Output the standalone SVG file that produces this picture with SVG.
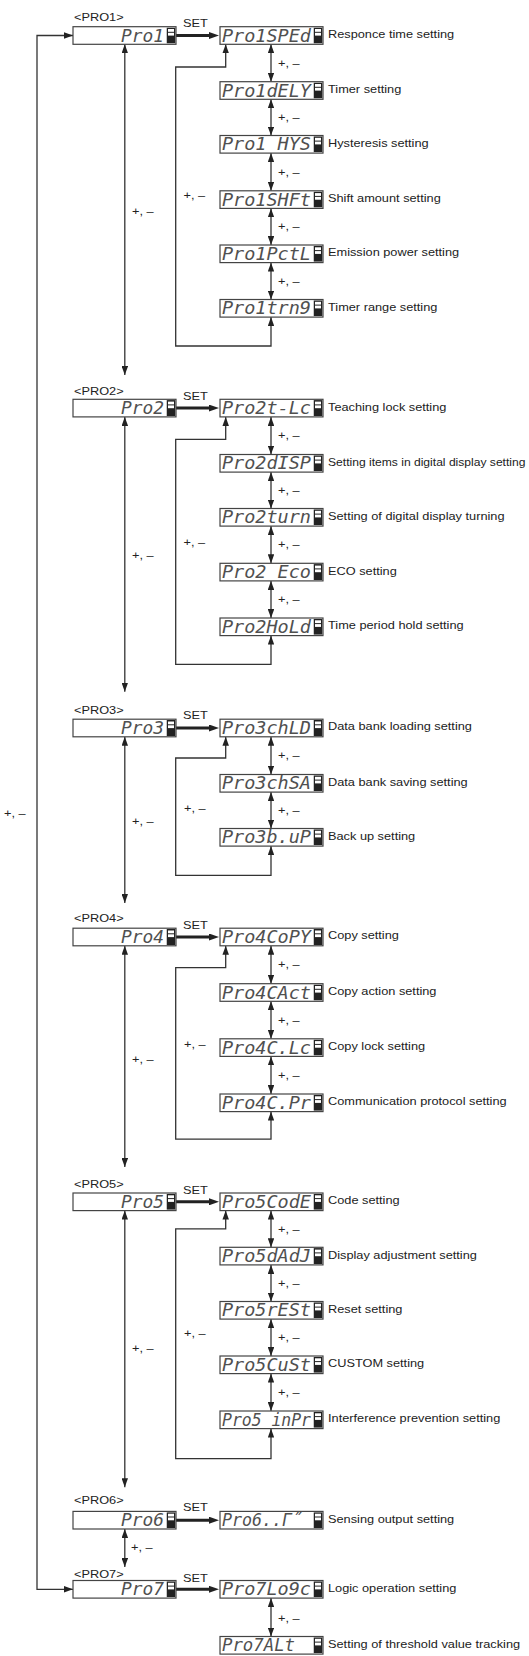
<svg xmlns="http://www.w3.org/2000/svg" xmlns:xlink="http://www.w3.org/1999/xlink" width="529" height="1656" viewBox="0 0 529 1656">
<style>
.box{fill:#fff;stroke:#444;stroke-width:1.2}
.seg{font-family:"DejaVu Sans Mono",monospace;font-style:italic;font-size:18px;fill:#505050}
.lbl{font-family:"Liberation Sans",Arial,sans-serif;font-size:11px;fill:#222}
.ln{fill:none;stroke:#333;stroke-width:1.3}
.dbl{marker-start:url(#ah);marker-end:url(#ah)}
.set{fill:none;stroke:#222;stroke-width:3;marker-end:url(#ahs)}
</style>
<defs>
<marker id="ah" viewBox="0 0 10 10" refX="10" refY="5" markerWidth="9" markerHeight="6.5" markerUnits="userSpaceOnUse" orient="auto-start-reverse" preserveAspectRatio="none"><path d="M0,0 L10,5 L0,10 z" fill="#222"/></marker>
<marker id="ahs" viewBox="0 0 10 10" refX="1" refY="5" markerWidth="10" markerHeight="7" markerUnits="userSpaceOnUse" orient="auto" preserveAspectRatio="none"><path d="M0,0 L10,5 L0,10 z" fill="#222"/></marker>
<symbol id="ind" viewBox="0 0 9 16" preserveAspectRatio="none"><rect x="0" y="0" width="9" height="16" fill="#222"/><rect x="1.5" y="1.5" width="6" height="2.8" fill="#fff"/><rect x="1.5" y="5.3" width="6" height="2.8" fill="#fff"/></symbol>
</defs>
<rect width="529" height="1656" fill="#fff"/>

<g id="connectors">
<path class="ln dbl" d="M73,35.5 H37 V1589.3 H73"/>
<text class="lbl" transform="matrix(1.16 0 0 1 4 816.5)">+, –</text>
<!-- S1 -->
<path class="set" d="M176,35.5 H210"/>
<path class="ln dbl" d="M124.8,44.3 V375"/>
<path class="ln dbl" d="M225.7,44.3 V67 H175.7 V346 H271 V317.1"/>
<path class="ln dbl" d="M271,44.3 V81.7"/>
<path class="ln dbl" d="M271,99.3 V135.5"/>
<path class="ln dbl" d="M271,153.1 V190.8"/>
<path class="ln dbl" d="M271,208.4 V245"/>
<path class="ln dbl" d="M271,262.6 V299.5"/>
<text class="lbl" transform="matrix(1.16 0 0 1 278 66.5)">+, –</text>
<text class="lbl" transform="matrix(1.16 0 0 1 278 120.9)">+, –</text>
<text class="lbl" transform="matrix(1.16 0 0 1 278 175.5)">+, –</text>
<text class="lbl" transform="matrix(1.16 0 0 1 278 230.2)">+, –</text>
<text class="lbl" transform="matrix(1.16 0 0 1 278 284.5)">+, –</text>
<text class="lbl" transform="matrix(1.16 0 0 1 132 214.5)">+, –</text>
<text class="lbl" transform="matrix(1.16 0 0 1 183.5 198.5)">+, –</text>
<!-- S2 -->
<path class="set" d="M176,408.1 H210"/>
<path class="ln dbl" d="M124.8,416.9 V691.7"/>
<path class="ln dbl" d="M225.7,416.9 V439.3 H175.7 V664.3 H271 V635.6"/>
<path class="ln dbl" d="M271,416.9 V454.5"/>
<path class="ln dbl" d="M271,472.1 V508.5"/>
<path class="ln dbl" d="M271,526.1 V563.3"/>
<path class="ln dbl" d="M271,580.9 V618"/>
<text class="lbl" transform="matrix(1.16 0 0 1 278 439.2)">+, –</text>
<text class="lbl" transform="matrix(1.16 0 0 1 278 493.8)">+, –</text>
<text class="lbl" transform="matrix(1.16 0 0 1 278 548.2)">+, –</text>
<text class="lbl" transform="matrix(1.16 0 0 1 278 603)">+, –</text>
<text class="lbl" transform="matrix(1.16 0 0 1 132 559)">+, –</text>
<text class="lbl" transform="matrix(1.16 0 0 1 183.5 546)">+, –</text>
<!-- S3 -->
<path class="set" d="M176,728 H210"/>
<path class="ln dbl" d="M124.8,736.8 V902.9"/>
<path class="ln dbl" d="M225.7,736.8 V758 H175.7 V875.4 H271 V846.1"/>
<path class="ln dbl" d="M271,736.8 V774.5"/>
<path class="ln dbl" d="M271,792.1 V828.5"/>
<text class="lbl" transform="matrix(1.16 0 0 1 278 759.2)">+, –</text>
<text class="lbl" transform="matrix(1.16 0 0 1 278 813.8)">+, –</text>
<text class="lbl" transform="matrix(1.16 0 0 1 132 825)">+, –</text>
<text class="lbl" transform="matrix(1.16 0 0 1 184 811.5)">+, –</text>
<!-- S4 -->
<path class="set" d="M176,937 H210"/>
<path class="ln dbl" d="M124.8,945.8 V1167"/>
<path class="ln dbl" d="M225.7,945.8 V967.7 H175.7 V1139.1 H271 V1111.6"/>
<path class="ln dbl" d="M271,945.8 V983.7"/>
<path class="ln dbl" d="M271,1001.3 V1038.8"/>
<path class="ln dbl" d="M271,1056.4 V1094"/>
<text class="lbl" transform="matrix(1.16 0 0 1 278 968.3)">+, –</text>
<text class="lbl" transform="matrix(1.16 0 0 1 278 1023.5)">+, –</text>
<text class="lbl" transform="matrix(1.16 0 0 1 278 1078.7)">+, –</text>
<text class="lbl" transform="matrix(1.16 0 0 1 132 1063)">+, –</text>
<text class="lbl" transform="matrix(1.16 0 0 1 184 1047.8)">+, –</text>
<!-- S5 -->
<path class="set" d="M176,1201.8 H210"/>
<path class="ln dbl" d="M124.8,1210.6 V1487.2"/>
<path class="ln dbl" d="M225.7,1210.6 V1228.9 H175.7 V1458.6 H271 V1428.6"/>
<path class="ln dbl" d="M271,1210.6 V1247.3"/>
<path class="ln dbl" d="M271,1264.9 V1301.5"/>
<path class="ln dbl" d="M271,1319.1 V1356"/>
<path class="ln dbl" d="M271,1373.6 V1411"/>
<text class="lbl" transform="matrix(1.16 0 0 1 278 1232.5)">+, –</text>
<text class="lbl" transform="matrix(1.16 0 0 1 278 1286.7)">+, –</text>
<text class="lbl" transform="matrix(1.16 0 0 1 278 1341.1)">+, –</text>
<text class="lbl" transform="matrix(1.16 0 0 1 278 1395.8)">+, –</text>
<text class="lbl" transform="matrix(1.16 0 0 1 132 1351.7)">+, –</text>
<text class="lbl" transform="matrix(1.16 0 0 1 184 1337.2)">+, –</text>
<!-- S6 / S7 -->
<path class="set" d="M176,1520.2 H210"/>
<path class="ln dbl" d="M124.8,1529 V1567"/>
<text class="lbl" transform="matrix(1.16 0 0 1 131 1551)">+, –</text>
<path class="set" d="M176,1589.3 H210"/>
<path class="ln dbl" d="M271,1598.1 V1636.5"/>
<text class="lbl" transform="matrix(1.16 0 0 1 278 1621.8)">+, –</text>
<!-- SET labels -->
<text class="lbl" transform="matrix(1.16 0 0 1 183 26.5)">SET</text>
<text class="lbl" transform="matrix(1.16 0 0 1 183 399.5)">SET</text>
<text class="lbl" transform="matrix(1.16 0 0 1 183 718.6)">SET</text>
<text class="lbl" transform="matrix(1.16 0 0 1 183 929)">SET</text>
<text class="lbl" transform="matrix(1.16 0 0 1 183 1194)">SET</text>
<text class="lbl" transform="matrix(1.16 0 0 1 183 1511.4)">SET</text>
<text class="lbl" transform="matrix(1.16 0 0 1 183 1582)">SET</text>
</g>

<!-- Section 1 -->
<g id="pro1"><rect class="box" x="73" y="26.7" width="103" height="17.6"/><text class="seg" x="121" y="41.5" textLength="43" lengthAdjust="spacingAndGlyphs">Pro1</text><use href="#ind" x="166.5" y="27.5" width="9" height="16"/><text class="lbl" transform="matrix(1.16 0 0 1 74 20.7)">&lt;PRO1&gt;</text></g>
<g id="pro1-sped"><rect class="box" x="220" y="26.7" width="103" height="17.6"/><text class="seg" x="222" y="41.5" textLength="89" lengthAdjust="spacingAndGlyphs">Pro1SPEd</text><use href="#ind" x="313.5" y="27.5" width="9" height="16"/><text class="lbl" transform="matrix(1.16 0 0 1 328 37.9)">Responce time setting</text></g>
<g id="pro1-dely"><rect class="box" x="220" y="81.7" width="103" height="17.6"/><text class="seg" x="222" y="96.5" textLength="89" lengthAdjust="spacingAndGlyphs">Pro1dELY</text><use href="#ind" x="313.5" y="82.5" width="9" height="16"/><text class="lbl" transform="matrix(1.16 0 0 1 328 92.9)">Timer setting</text></g>
<g id="pro1-hys"><rect class="box" x="220" y="135.5" width="103" height="17.6"/><text class="seg" x="222" y="150.3" textLength="89" lengthAdjust="spacingAndGlyphs">Pro1 HYS</text><use href="#ind" x="313.5" y="136.3" width="9" height="16"/><text class="lbl" transform="matrix(1.16 0 0 1 328 146.7)">Hysteresis setting</text></g>
<g id="pro1-shft"><rect class="box" x="220" y="190.8" width="103" height="17.6"/><text class="seg" x="222" y="205.6" textLength="89" lengthAdjust="spacingAndGlyphs">Pro1SHFt</text><use href="#ind" x="313.5" y="191.6" width="9" height="16"/><text class="lbl" transform="matrix(1.16 0 0 1 328 202)">Shift amount setting</text></g>
<g id="pro1-pctl"><rect class="box" x="220" y="245" width="103" height="17.6"/><text class="seg" x="222" y="259.8" textLength="89" lengthAdjust="spacingAndGlyphs">Pro1PctL</text><use href="#ind" x="313.5" y="245.8" width="9" height="16"/><text class="lbl" transform="matrix(1.16 0 0 1 328 256.2)">Emission power setting</text></g>
<g id="pro1-trng"><rect class="box" x="220" y="299.5" width="103" height="17.6"/><text class="seg" x="222" y="314.3" textLength="89" lengthAdjust="spacingAndGlyphs">Pro1trn9</text><use href="#ind" x="313.5" y="300.3" width="9" height="16"/><text class="lbl" transform="matrix(1.16 0 0 1 328 310.7)">Timer range setting</text></g>

<!-- Section 2 -->
<g id="pro2"><rect class="box" x="73" y="399.3" width="103" height="17.6"/><text class="seg" x="121" y="414.1" textLength="43" lengthAdjust="spacingAndGlyphs">Pro2</text><use href="#ind" x="166.5" y="400.1" width="9" height="16"/><text class="lbl" transform="matrix(1.16 0 0 1 74 395)">&lt;PRO2&gt;</text></g>
<g id="pro2-tlc"><rect class="box" x="220" y="399.3" width="103" height="17.6"/><text class="seg" x="222" y="414.1" textLength="89" lengthAdjust="spacingAndGlyphs">Pro2t-Lc</text><use href="#ind" x="313.5" y="400.1" width="9" height="16"/><text class="lbl" transform="matrix(1.16 0 0 1 328 410.5)">Teaching lock setting</text></g>
<g id="pro2-disp"><rect class="box" x="220" y="454.5" width="103" height="17.6"/><text class="seg" x="222" y="469.3" textLength="89" lengthAdjust="spacingAndGlyphs">Pro2dISP</text><use href="#ind" x="313.5" y="455.3" width="9" height="16"/><text class="lbl" transform="matrix(1.1 0 0 1 328 465.7)">Setting items in digital display setting</text></g>
<g id="pro2-turn"><rect class="box" x="220" y="508.5" width="103" height="17.6"/><text class="seg" x="222" y="523.3" textLength="89" lengthAdjust="spacingAndGlyphs">Pro2turn</text><use href="#ind" x="313.5" y="509.3" width="9" height="16"/><text class="lbl" transform="matrix(1.16 0 0 1 328 519.7)">Setting of digital display turning</text></g>
<g id="pro2-eco"><rect class="box" x="220" y="563.3" width="103" height="17.6"/><text class="seg" x="222" y="578.1" textLength="89" lengthAdjust="spacingAndGlyphs">Pro2 Eco</text><use href="#ind" x="313.5" y="564.1" width="9" height="16"/><text class="lbl" transform="matrix(1.16 0 0 1 328 574.5)">ECO setting</text></g>
<g id="pro2-hold"><rect class="box" x="220" y="618" width="103" height="17.6"/><text class="seg" x="222" y="632.8" textLength="89" lengthAdjust="spacingAndGlyphs">Pro2HoLd</text><use href="#ind" x="313.5" y="618.8" width="9" height="16"/><text class="lbl" transform="matrix(1.16 0 0 1 328 629.2)">Time period hold setting</text></g>

<!-- Section 3 -->
<g id="pro3"><rect class="box" x="73" y="719.2" width="103" height="17.6"/><text class="seg" x="121" y="734" textLength="43" lengthAdjust="spacingAndGlyphs">Pro3</text><use href="#ind" x="166.5" y="720" width="9" height="16"/><text class="lbl" transform="matrix(1.16 0 0 1 74 713.5)">&lt;PRO3&gt;</text></g>
<g id="pro3-chld"><rect class="box" x="220" y="719.2" width="103" height="17.6"/><text class="seg" x="222" y="734" textLength="89" lengthAdjust="spacingAndGlyphs">Pro3chLD</text><use href="#ind" x="313.5" y="720" width="9" height="16"/><text class="lbl" transform="matrix(1.16 0 0 1 328 730.4)">Data bank loading setting</text></g>
<g id="pro3-chsa"><rect class="box" x="220" y="774.5" width="103" height="17.6"/><text class="seg" x="222" y="789.3" textLength="89" lengthAdjust="spacingAndGlyphs">Pro3chSA</text><use href="#ind" x="313.5" y="775.3" width="9" height="16"/><text class="lbl" transform="matrix(1.16 0 0 1 328 785.7)">Data bank saving setting</text></g>
<g id="pro3-bup"><rect class="box" x="220" y="828.5" width="103" height="17.6"/><text class="seg" x="222" y="843.3" textLength="89" lengthAdjust="spacingAndGlyphs">Pro3b.uP</text><use href="#ind" x="313.5" y="829.3" width="9" height="16"/><text class="lbl" transform="matrix(1.16 0 0 1 328 839.7)">Back up setting</text></g>

<!-- Section 4 -->
<g id="pro4"><rect class="box" x="73" y="928.2" width="103" height="17.6"/><text class="seg" x="121" y="943" textLength="43" lengthAdjust="spacingAndGlyphs">Pro4</text><use href="#ind" x="166.5" y="929" width="9" height="16"/><text class="lbl" transform="matrix(1.16 0 0 1 74 922)">&lt;PRO4&gt;</text></g>
<g id="pro4-copy"><rect class="box" x="220" y="928.2" width="103" height="17.6"/><text class="seg" x="222" y="943" textLength="89" lengthAdjust="spacingAndGlyphs">Pro4CoPY</text><use href="#ind" x="313.5" y="929" width="9" height="16"/><text class="lbl" transform="matrix(1.16 0 0 1 328 939.4)">Copy setting</text></g>
<g id="pro4-cact"><rect class="box" x="220" y="983.7" width="103" height="17.6"/><text class="seg" x="222" y="998.5" textLength="89" lengthAdjust="spacingAndGlyphs">Pro4CAct</text><use href="#ind" x="313.5" y="984.5" width="9" height="16"/><text class="lbl" transform="matrix(1.16 0 0 1 328 994.9)">Copy action setting</text></g>
<g id="pro4-clc"><rect class="box" x="220" y="1038.8" width="103" height="17.6"/><text class="seg" x="222" y="1053.6" textLength="89" lengthAdjust="spacingAndGlyphs">Pro4C.Lc</text><use href="#ind" x="313.5" y="1039.6" width="9" height="16"/><text class="lbl" transform="matrix(1.16 0 0 1 328 1050)">Copy lock setting</text></g>
<g id="pro4-cpr"><rect class="box" x="220" y="1094" width="103" height="17.6"/><text class="seg" x="222" y="1108.8" textLength="89" lengthAdjust="spacingAndGlyphs">Pro4C.Pr</text><use href="#ind" x="313.5" y="1094.8" width="9" height="16"/><text class="lbl" transform="matrix(1.16 0 0 1 328 1105.2)">Communication protocol setting</text></g>

<!-- Section 5 -->
<g id="pro5"><rect class="box" x="73" y="1193" width="103" height="17.6"/><text class="seg" x="121" y="1207.8" textLength="43" lengthAdjust="spacingAndGlyphs">Pro5</text><use href="#ind" x="166.5" y="1193.8" width="9" height="16"/><text class="lbl" transform="matrix(1.16 0 0 1 74 1187.5)">&lt;PRO5&gt;</text></g>
<g id="pro5-code"><rect class="box" x="220" y="1193" width="103" height="17.6"/><text class="seg" x="222" y="1207.8" textLength="89" lengthAdjust="spacingAndGlyphs">Pro5CodE</text><use href="#ind" x="313.5" y="1193.8" width="9" height="16"/><text class="lbl" transform="matrix(1.16 0 0 1 328 1204.2)">Code setting</text></g>
<g id="pro5-dadj"><rect class="box" x="220" y="1247.3" width="103" height="17.6"/><text class="seg" x="222" y="1262.1" textLength="89" lengthAdjust="spacingAndGlyphs">Pro5dAdJ</text><use href="#ind" x="313.5" y="1248.1" width="9" height="16"/><text class="lbl" transform="matrix(1.16 0 0 1 328 1258.5)">Display adjustment setting</text></g>
<g id="pro5-rest"><rect class="box" x="220" y="1301.5" width="103" height="17.6"/><text class="seg" x="222" y="1316.3" textLength="89" lengthAdjust="spacingAndGlyphs">Pro5rESt</text><use href="#ind" x="313.5" y="1302.3" width="9" height="16"/><text class="lbl" transform="matrix(1.16 0 0 1 328 1312.7)">Reset setting</text></g>
<g id="pro5-cust"><rect class="box" x="220" y="1356" width="103" height="17.6"/><text class="seg" x="222" y="1370.8" textLength="89" lengthAdjust="spacingAndGlyphs">Pro5CuSt</text><use href="#ind" x="313.5" y="1356.8" width="9" height="16"/><text class="lbl" transform="matrix(1.16 0 0 1 328 1367.2)">CUSTOM setting</text></g>
<g id="pro5-inpr"><rect class="box" x="220" y="1411" width="103" height="17.6"/><text class="seg" x="222" y="1425.8" textLength="89" lengthAdjust="spacingAndGlyphs">Pro5 inPr</text><use href="#ind" x="313.5" y="1411.8" width="9" height="16"/><text class="lbl" transform="matrix(1.16 0 0 1 328 1422.2)">Interference prevention setting</text></g>

<!-- Section 6 -->
<g id="pro6"><rect class="box" x="73" y="1511.4" width="103" height="17.6"/><text class="seg" x="121" y="1526.2" textLength="43" lengthAdjust="spacingAndGlyphs">Pro6</text><use href="#ind" x="166.5" y="1512.2" width="9" height="16"/><text class="lbl" transform="matrix(1.16 0 0 1 74 1504.3)">&lt;PRO6&gt;</text></g>
<g id="pro6-out"><rect class="box" x="220" y="1511.4" width="103" height="17.6"/><text class="seg" x="222" y="1526.2" textLength="80" lengthAdjust="spacingAndGlyphs">Pro6..Γ˝</text><use href="#ind" x="313.5" y="1512.2" width="9" height="16"/><text class="lbl" transform="matrix(1.16 0 0 1 328 1522.6)">Sensing output setting</text></g>

<!-- Section 7 -->
<g id="pro7"><rect class="box" x="73" y="1580.5" width="103" height="17.6"/><text class="seg" x="121" y="1595.3" textLength="43" lengthAdjust="spacingAndGlyphs">Pro7</text><use href="#ind" x="166.5" y="1581.3" width="9" height="16"/><text class="lbl" transform="matrix(1.16 0 0 1 74 1577.5)">&lt;PRO7&gt;</text></g>
<g id="pro7-logc"><rect class="box" x="220" y="1580.5" width="103" height="17.6"/><text class="seg" x="222" y="1595.3" textLength="89" lengthAdjust="spacingAndGlyphs">Pro7Lo9c</text><use href="#ind" x="313.5" y="1581.3" width="9" height="16"/><text class="lbl" transform="matrix(1.16 0 0 1 328 1591.7)">Logic operation setting</text></g>
<g id="pro7-alt"><rect class="box" x="220" y="1636.5" width="103" height="17.6"/><text class="seg" x="222" y="1651.3" textLength="73" lengthAdjust="spacingAndGlyphs">Pro7ALt</text><use href="#ind" x="313.5" y="1637.3" width="9" height="16"/><text class="lbl" transform="matrix(1.16 0 0 1 328 1647.7)">Setting of threshold value tracking</text></g>
</svg>
